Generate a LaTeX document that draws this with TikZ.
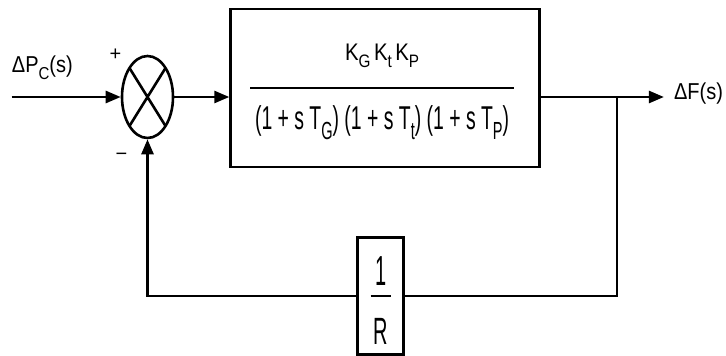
\documentclass[tikz,border=0pt]{standalone}
\usepackage{fontspec}
\setmainfont{Liberation Sans}
\usetikzlibrary{positioning, shapes.geometric, arrows.meta, calc}
\newcommand{\stretchy}[3]{\scalebox{#1}[#2]{#3}}
\newcommand{\sub}[1]{\raisebox{-0.3em}{\fontsize{15}{18}\selectfont #1}}

\begin{document}
\begin{tikzpicture}[
	x=1pt, y=-1pt,
	sum/.style={ellipse, draw, line width=2.6pt, minimum width=51pt, minimum height=82pt, inner sep=0pt,
		path picture={\draw[line width=2.6pt] (path picture bounding box.north west) -- (path picture bounding box.south east)
			(path picture bounding box.north east) -- (path picture bounding box.south west);}},
	block/.style={rectangle, draw, line width=2.6pt, inner sep=0pt},
	sign/.style={inner sep=0pt},
	line/.style={line width=2.6pt},
	arrow/.style={-{Triangle[length=15pt, width=12pt]}, line width=2.6pt},
	every node/.style={font=\fontsize{20}{24}\selectfont}
]
	\useasboundingbox (0,0) rectangle (726,356);

	\node[sum] (sum) at (147.5,97) {};
	\coordinate[left=109pt of sum] (input);
	\node[sign, above right=17pt and 0pt of input] (inlabel) {\stretchy{1}{1.15}{ΔP\sub{C}(s)}};
	\node[sign] (plus) at ($(sum.center)+(-32pt,42pt)$) {+};
	\node[sign] (minus) at ($(sum.center)+(-26pt,-60pt)$) {−};

	\node[block, minimum width=309pt, minimum height=158pt, right=55pt of sum, yshift=9pt] (plant) {};
	\node[sign] (num) at ([xshift=-3pt, yshift=32pt]plant.center) {\stretchy{1.02}{1.2}{K\sub{G}\,K\sub{t}\,K\sub{P}}};
	\node[sign] (den) at ([xshift=-3pt, yshift=-35pt]plant.center) {\stretchy{0.97}{1.65}{(1 + s T\sub{G}) (1 + s T\sub{t}) (1 + s T\sub{P})}};
	\draw[line] ([xshift=-135pt]plant.center) -- ([xshift=129pt]plant.center);

	\coordinate (branch) at ($(plant.east |- sum.east)+(76pt,0)$);
	\coordinate (output) at ($(branch)+(47pt,0)$);
	\node[sign, right=10pt of output, yshift=3pt] (outlabel) {\stretchy{1}{1.15}{ΔF(s)}};

	\node[block, minimum width=46pt, minimum height=117pt, below=68pt of plant, xshift=-4.5pt] (gain) {};
	\node[sign] (one) at ([yshift=25pt]gain.center) {\stretchy{1}{2.1}{1}};
	\node[sign] (r) at ([yshift=-35pt]gain.center) {\stretchy{1}{1.9}{R}};
	\draw[line] ([xshift=-10pt]gain.center) -- ([xshift=10pt]gain.center);

	\coordinate (fbright) at (branch |- gain);
	\coordinate (fbleft) at (sum |- gain);

	\draw[arrow] (input) -- (sum.west);
	\draw[arrow] (sum.east) -- (sum.east -| plant.west);
	\draw[arrow] (plant.east |- sum.east) -- (output);
	\draw[line] (branch) -- (fbright) -- (gain.east);
	\draw[arrow] (gain.west) -- (fbleft) -- (sum.south);
\end{tikzpicture}
\end{document}
